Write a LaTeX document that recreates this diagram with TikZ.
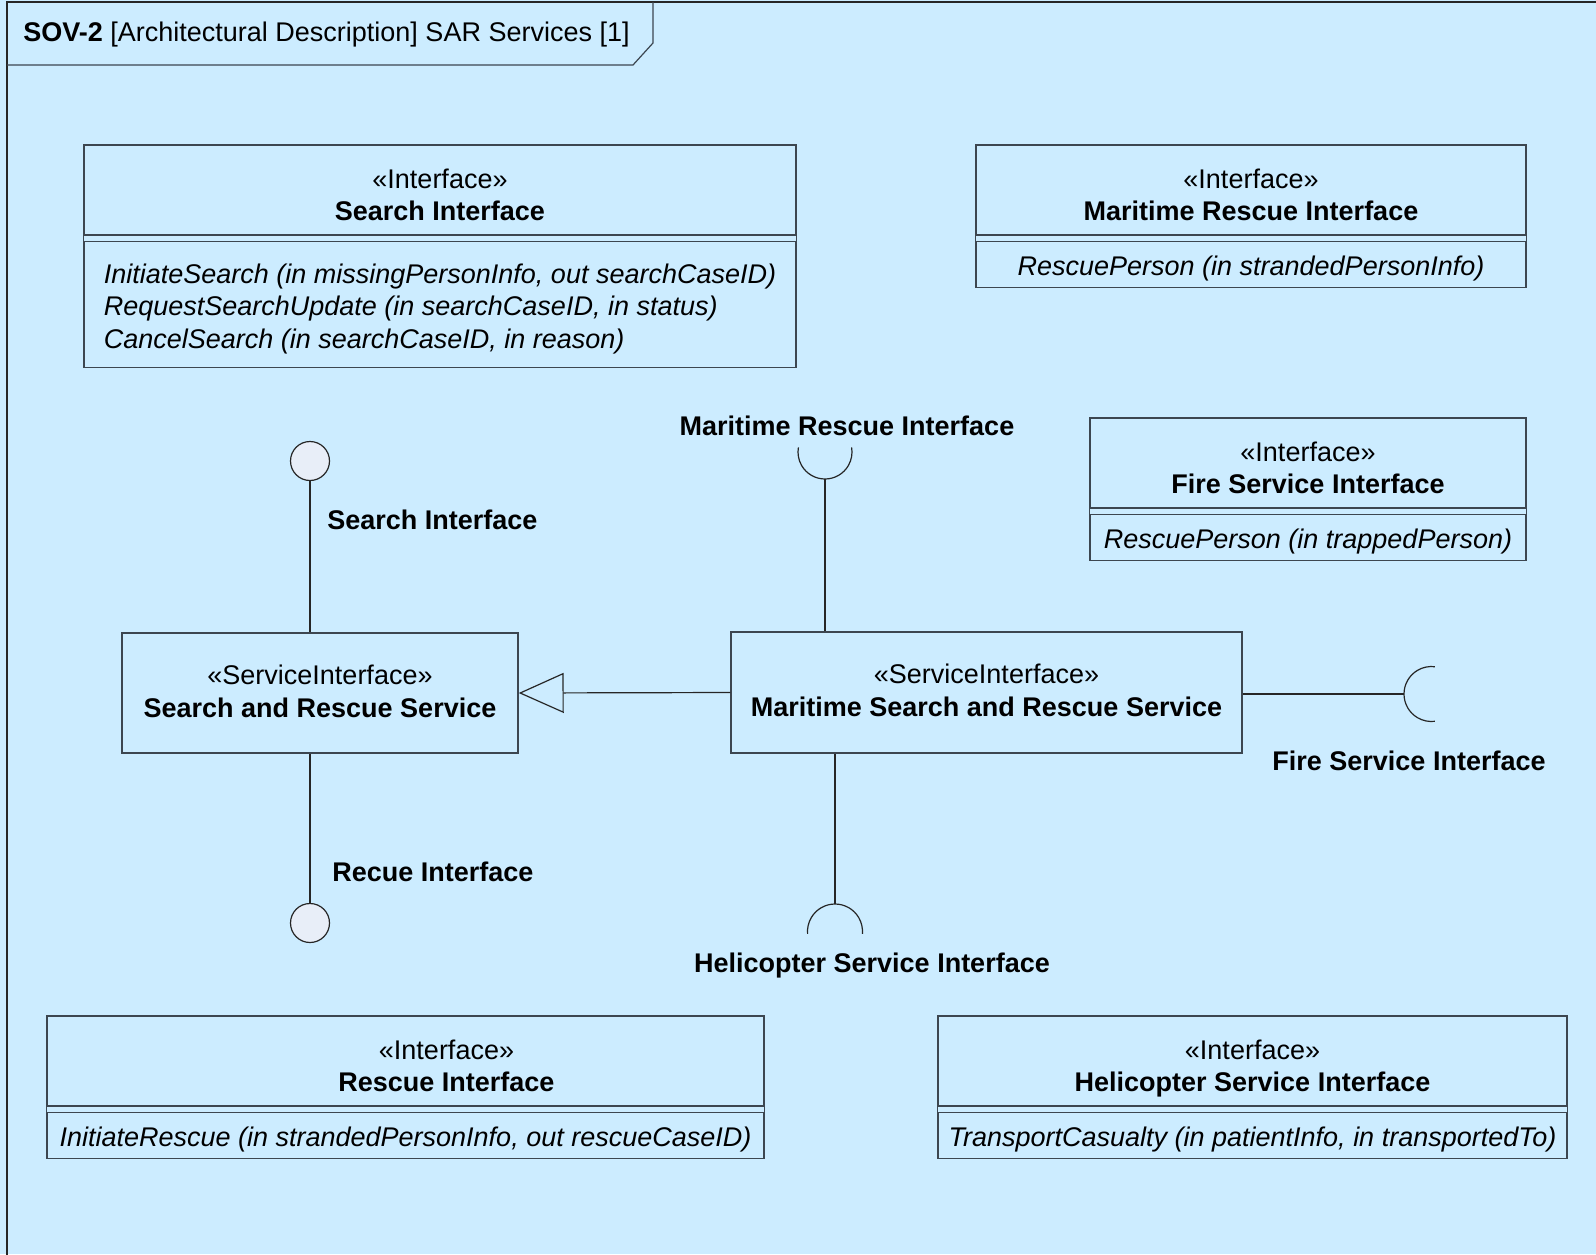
\documentclass[tikz,border=0pt]{standalone}
\usepackage{fontspec}
\setmainfont{Liberation Sans}
\usetikzlibrary{positioning,arrows.meta}
\definecolor{sovbg}{HTML}{CCECFF}
\definecolor{ballfill}{HTML}{E8EEF8}
\definecolor{boxline}{HTML}{3C4650}

\begin{document}
\begin{tikzpicture}[x=0.5pt,y=-0.5pt,
	font=\fontsize{13.5pt}{16.3pt}\selectfont,
	hdr/.style={draw=boxline,line width=0.7pt,align=center,minimum height=45pt,inner sep=2pt},
	ops/.style={draw=boxline,line width=0.7pt,align=left,inner sep=2pt,font=\fontsize{13.5pt}{16.3pt}\selectfont\itshape},
	svc/.style={draw=boxline,line width=0.7pt,align=center},
	ball/.style={circle,draw=black!85,fill=ballfill,line width=0.6pt,minimum size=19.5pt,inner sep=0pt},
	lbl/.style={inner sep=0pt,font=\fontsize{13.5pt}{16.3pt}\selectfont\bfseries},
	wire/.style={draw=black!85,line width=0.6pt},
	node distance=2.5pt]
	\useasboundingbox (0,0) rectangle (1596,1254);
	\fill[sovbg] (0,0) rectangle (1596,1254);
	\draw[black!85,line width=0.9pt] (7,1260) -- (7,2) -- (1600,2);
	\draw[boxline,line width=0.6pt] (7,65) -- (633,65) -- (653,43) -- (653,2);
	\node[anchor=west,inner sep=0pt] (title) at (23,35) {\textbf{SOV-2} [Architectural Description] SAR Services [1]};
	\node[hdr,minimum width=356pt] (searchif) at (440,190) {\rule{0pt}{18.3pt}«Interface»\\\textbf{Search Interface}\rule[-4pt]{0pt}{4pt}};
	\node[ops,minimum width=356pt,minimum height=63pt] (searchops) [below = of searchif] {\rule{0pt}{14pt}InitiateSearch (in missingPersonInfo, out searchCaseID)\\RequestSearchUpdate (in searchCaseID, in status)\\CancelSearch (in searchCaseID, in reason)};
	\node[hdr,minimum width=275pt] (mrescueif) at (1251,190) {\rule{0pt}{18.3pt}«Interface»\\\textbf{Maritime Rescue Interface}\rule[-4pt]{0pt}{4pt}};
	\node[ops,minimum width=275pt,minimum height=23pt] (mrescueops) [below = of mrescueif] {\rule{0pt}{13.5pt}RescuePerson (in strandedPersonInfo)};
	\node[hdr,minimum width=218pt] (fireif) at (1308,463) {\rule{0pt}{18.3pt}«Interface»\\\textbf{Fire Service Interface}\rule[-4pt]{0pt}{4pt}};
	\node[ops,minimum width=218pt,minimum height=23pt] (fireops) [below = of fireif] {\rule{0pt}{13.5pt}RescuePerson (in trappedPerson)};
	\node[hdr,minimum width=358.5pt] (rescueif) at (405.5,1061) {\rule{0pt}{18.3pt}\hspace*{41pt}«Interface»\\\hspace*{41pt}\textbf{Rescue Interface}\rule[-4pt]{0pt}{4pt}};
	\node[ops,minimum width=358.5pt,minimum height=23pt] (rescueops) [below = of rescueif] {\rule{0pt}{13.5pt}InitiateRescue (in strandedPersonInfo, out rescueCaseID)};
	\node[hdr,minimum width=314.5pt] (heliif) at (1252.5,1061) {\rule{0pt}{18.3pt}«Interface»\\\textbf{Helicopter Service Interface}\rule[-4pt]{0pt}{4pt}};
	\node[ops,minimum width=314.5pt,minimum height=23pt] (heliops) [below = of heliif] {\rule{0pt}{13.5pt}TransportCasualty (in patientInfo, in transportedTo)};
	\draw[boxline,line width=0.7pt] (searchif.south west) -- (searchops.north west) (searchif.south east) -- (searchops.north east);
	\draw[boxline,line width=0.7pt] (mrescueif.south west) -- (mrescueops.north west) (mrescueif.south east) -- (mrescueops.north east);
	\draw[boxline,line width=0.7pt] (fireif.south west) -- (fireops.north west) (fireif.south east) -- (fireops.north east);
	\draw[boxline,line width=0.7pt] (rescueif.south west) -- (rescueops.north west) (rescueif.south east) -- (rescueops.north east);
	\draw[boxline,line width=0.7pt] (heliif.south west) -- (heliops.north west) (heliif.south east) -- (heliops.north east);
	\node[svc,minimum width=198pt,minimum height=60pt] (sar) at (320,693) {«ServiceInterface»\\\textbf{Search and Rescue Service}\rule[-2pt]{0pt}{2pt}};
	\node[svc,minimum width=255.5pt,minimum height=60.5pt] (msar) at (986.5,692.5) {«ServiceInterface»\\\textbf{Maritime Search and Rescue Service}\rule[-2pt]{0pt}{2pt}};
	\node[ball] (searchball) at (310,461) {};
	\node[ball] (rescueball) at (310,923) {};
	\coordinate (mrsocket) at (825,479);
	\coordinate (helisocket) at (835,904);
	\coordinate (firesocket) at (1404,694);
	\node[lbl,anchor=west] (searchlbl) at (327,520) {Search Interface};
	\node[lbl,anchor=west] (rescuelbl) at (332,872) {Recue Interface};
	\node[lbl] (mrlbl) at (847,426) {Maritime Rescue Interface};
	\node[lbl] (helilbl) at (872,966) {Helicopter Service Interface};
	\node[lbl] (firelbl) at (1409,761) {Fire Service Interface};
	\draw[wire] (searchball) -- (searchball |- sar.north);
	\draw[wire] (rescueball) -- (rescueball |- sar.south);
	\draw[wire] (mrsocket |- msar.north) -- (mrsocket);
	\draw[wire] (mrsocket) arc[start angle=-90,end angle=10,radius=13.5pt] (mrsocket) arc[start angle=-90,end angle=-190,radius=13.5pt];
	\draw[wire] (helisocket |- msar.south) -- (helisocket);
	\draw[wire] (helisocket) arc[start angle=90,end angle=-5,radius=13.75pt] (helisocket) arc[start angle=90,end angle=185,radius=13.75pt];
	\draw[wire] (msar.east |- firesocket) -- (firesocket);
	\draw[wire] (firesocket) arc[start angle=180,end angle=83,radius=13.75pt] (firesocket) arc[start angle=180,end angle=277,radius=13.75pt];
	\draw[wire,-{Triangle[open,length=22.5pt,width=20pt]}] (msar.west) -- (sar.east);
\end{tikzpicture}
\end{document}
